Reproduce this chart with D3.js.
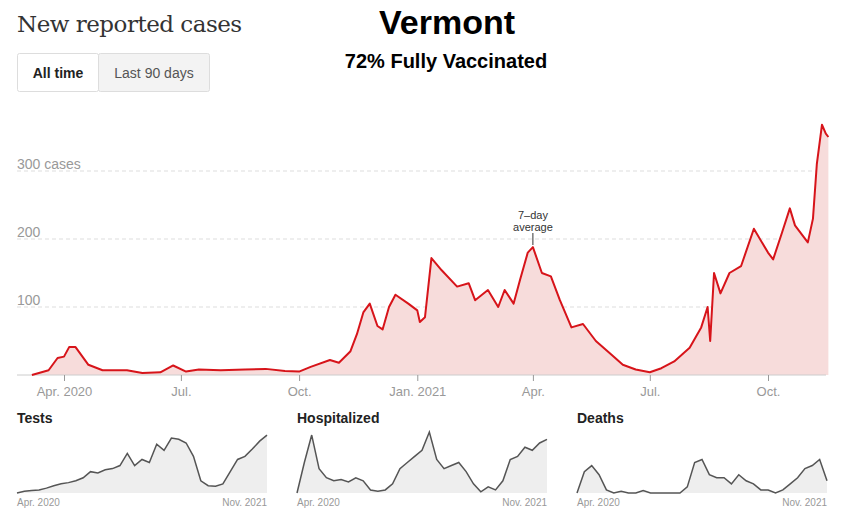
<!DOCTYPE html>
<html><head><meta charset="utf-8">
<script src="https://cdn.jsdelivr.net/npm/d3@7"></script>
<style>body{margin:0;background:#fff}</style>
</head><body><div id="root"></div>
<script>
// daily-ish 7-day average of new cases
var caseDates = ["2020-03-07","2020-03-20","2020-03-27","2020-04-01","2020-04-05","2020-04-10","2020-04-20","2020-05-01","2020-05-20","2020-06-01","2020-06-15","2020-06-25","2020-07-05","2020-07-15","2020-08-01","2020-08-20","2020-09-05","2020-09-20","2020-10-01","2020-10-10","2020-10-25","2020-11-01","2020-11-10","2020-11-15","2020-11-20","2020-11-25","2020-12-01","2020-12-05","2020-12-10","2020-12-15","2020-12-25","2021-01-01","2021-01-03","2021-01-07","2021-01-12","2021-01-20","2021-02-01","2021-02-10","2021-02-15","2021-02-25","2021-03-05","2021-03-10","2021-03-17","2021-03-22","2021-03-28","2021-04-01","2021-04-08","2021-04-15","2021-04-22","2021-05-01","2021-05-10","2021-05-20","2021-06-01","2021-06-10","2021-06-20","2021-07-01","2021-07-10","2021-07-20","2021-08-01","2021-08-10","2021-08-15","2021-08-17","2021-08-20","2021-08-25","2021-09-01","2021-09-10","2021-09-20","2021-10-01","2021-10-05","2021-10-12","2021-10-18","2021-10-22","2021-10-28","2021-11-01","2021-11-05","2021-11-08","2021-11-12","2021-11-15","2021-11-17"];
var caseValues = [0,7,25,27,41,41,15,7,7,3,4,14,5,8,7,8,9,6,5,12,22,18,35,60,92,105,72,67,100,118,105,95,78,85,172,154,130,135,110,125,100,125,105,140,180,188,150,145,110,70,75,50,30,15,8,4,10,20,40,70,100,50,150,120,150,160,215,180,170,210,245,220,205,195,230,310,368,355,350];
var yTicks = [100,200,300];
var xTickDates = ["2020-04-01","2020-07-01","2020-10-01","2021-01-01","2021-04-01","2021-07-01","2021-10-01"];
var xTickLabels = ["Apr. 2020","Jul.","Oct.","Jan. 2021","Apr.","Jul.","Oct."];

var smallTitles = ["Tests","Hospitalized","Deaths"];
var testsValues = [0,0.03,0.04,0.05,0.08,0.12,0.15,0.17,0.2,0.25,0.35,0.33,0.38,0.4,0.45,0.65,0.45,0.55,0.5,0.8,0.7,0.9,0.88,0.82,0.6,0.2,0.12,0.11,0.15,0.35,0.55,0.6,0.72,0.85,0.95];
var hospValues = [0,0.5,0.95,0.4,0.25,0.2,0.22,0.18,0.25,0.2,0.05,0.03,0.05,0.15,0.4,0.5,0.6,0.7,1.0,0.55,0.4,0.45,0.5,0.35,0.15,0.02,0.1,0.05,0.2,0.55,0.6,0.75,0.7,0.82,0.88];
var deathValues = [0,0.35,0.45,0.3,0.05,0,0.03,0,0,0.04,0,0,0,0,0,0.1,0.5,0.55,0.3,0.25,0.25,0.15,0.3,0.2,0.15,0.05,0.05,0,0.05,0.15,0.25,0.4,0.45,0.55,0.2];
var smallLabels = ["Apr. 2020","Nov. 2021"];

var parse = d3.timeParse("%Y-%m-%d");
var svg = d3.select("#root").append("svg").attr("width",842).attr("height",517)
  .style("font-family","'Liberation Sans', Arial, sans-serif");

// headers
svg.append("text").attr("x",17).attr("y",32).attr("font-family","'DejaVu Serif', Georgia, serif")
  .attr("font-size",23).attr("fill","#333").attr("letter-spacing",-0.5).text("New reported cases");
svg.append("text").attr("x",447).attr("y",34).attr("text-anchor","middle").attr("font-size",34)
  .attr("font-weight","bold").text("Vermont");
svg.append("text").attr("x",446).attr("y",68).attr("text-anchor","middle").attr("font-size",20)
  .attr("font-weight","bold").text("72% Fully Vaccinated");

// buttons
svg.append("rect").attr("x",98.5).attr("y",53.5).attr("width",111).attr("height",38).attr("fill","#f3f3f3").attr("stroke","#ddd").attr("rx",2);
svg.append("rect").attr("x",17.5).attr("y",53.5).attr("width",81).attr("height",38).attr("fill","#fff").attr("stroke","#ddd").attr("rx",2);
svg.append("text").attr("x",58).attr("y",78).attr("text-anchor","middle").attr("font-size",14).attr("font-weight","bold").attr("fill","#222").text("All time");
svg.append("text").attr("x",154).attr("y",78).attr("text-anchor","middle").attr("font-size",14).attr("fill","#555").text("Last 90 days");

// main chart
var data = caseDates.map(function(d,i){ return {date: parse(d), value: caseValues[i]}; });
var x = d3.scaleTime().domain([parse("2020-04-01"), parse("2021-10-01")]).range([64,768]);
var y = d3.scaleLinear().domain([0,300]).range([375,171]);

var grid = svg.append("g");
yTicks.forEach(function(t){
  grid.append("line").attr("x1",17).attr("x2",826).attr("y1",y(t)).attr("y2",y(t))
    .attr("stroke","#ddd").attr("stroke-dasharray","4,3");
  grid.append("text").attr("x",17).attr("y",y(t)-2).attr("font-size",14).attr("fill","#999")
    .text(t === 300 ? "300 cases" : t);
});

svg.append("path").datum(data).attr("fill","#f7dcdb")
  .attr("d", d3.area().x(function(d){return x(d.date);}).y0(y(0)).y1(function(d){return y(d.value);}));
svg.append("line").attr("x1",17).attr("x2",826).attr("y1",y(0)).attr("y2",y(0)).attr("stroke","#ccc");
svg.append("path").datum(data).attr("fill","none").attr("stroke","#d7141a").attr("stroke-width",2)
  .attr("stroke-linejoin","round")
  .attr("d", d3.line().x(function(d){return x(d.date);}).y(function(d){return y(d.value);}));

var xAxis = d3.axisBottom(x).tickValues(xTickDates.map(parse))
  .tickFormat(function(d,i){ return xTickLabels[i]; }).tickSize(6).tickPadding(6);
var gx = svg.append("g").attr("transform","translate(0,"+y(0)+")").call(xAxis);
gx.select(".domain").remove();
gx.selectAll("line").attr("stroke","#999");
gx.selectAll("text").attr("font-size",13).attr("fill","#999").attr("font-family","'Liberation Sans', Arial, sans-serif");

// annotation
var ann = parse("2021-04-01");
svg.append("line").attr("x1",x(ann)).attr("x2",x(ann)).attr("y1",233).attr("y2",245).attr("stroke","#333");
svg.append("text").attr("x",x(ann)).attr("y",219).attr("text-anchor","middle").attr("font-size",11).attr("fill","#333").text("7–day");
svg.append("text").attr("x",x(ann)).attr("y",231).attr("text-anchor","middle").attr("font-size",11).attr("fill","#333").text("average");

// small multiples
var smallSeries = [testsValues, hospValues, deathValues];
var smallX0 = [17,297,577];
smallSeries.forEach(function(vals,k){
  var g = svg.append("g");
  var sx = d3.scaleLinear().domain([0, vals.length-1]).range([smallX0[k], smallX0[k]+250]);
  var sy = d3.scaleLinear().domain([0,1]).range([493,432]);
  g.append("text").attr("x",smallX0[k]).attr("y",423).attr("font-size",14).attr("font-weight","bold").attr("fill","#222").text(smallTitles[k]);
  g.append("path").datum(vals).attr("fill","#eee")
    .attr("d", d3.area().x(function(d,i){return sx(i);}).y0(sy(0)).y1(function(d){return sy(d);}));
  g.append("path").datum(vals).attr("fill","none").attr("stroke","#555").attr("stroke-width",1.5)
    .attr("d", d3.line().x(function(d,i){return sx(i);}).y(function(d){return sy(d);}));
  g.append("text").attr("x",smallX0[k]).attr("y",506).attr("font-size",10).attr("fill","#999").text(smallLabels[0]);
  g.append("text").attr("x",smallX0[k]+250).attr("y",506).attr("text-anchor","end").attr("font-size",10).attr("fill","#999").text(smallLabels[1]);
});
</script>
</body></html>
